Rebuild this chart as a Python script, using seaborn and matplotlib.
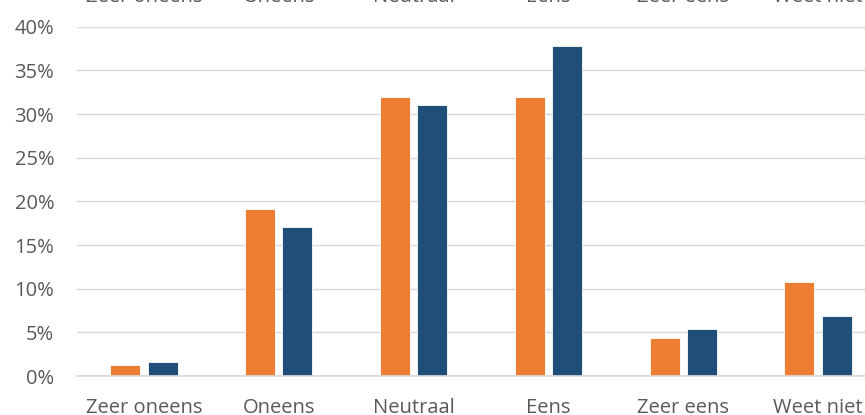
import pandas as pd
import seaborn as sb
import matplotlib.pyplot as plt
import matplotlib.transforms as mtransforms
from matplotlib.ticker import PercentFormatter

# antwoordcategorieen en aandelen per reeks
categorieen = ['Zeer oneens', 'Oneens', 'Neutraal', 'Eens', 'Zeer eens', 'Weet niet']
reeks_a = [0.013, 0.191, 0.320, 0.320, 0.044, 0.108]
reeks_b = [0.016, 0.171, 0.310, 0.378, 0.054, 0.069]
reeksen = ['A', 'B']
kleuren = ['#ED7D31', '#1F4E79']

dados = pd.DataFrame({
    'categorie': categorieen * 2,
    'aandeel': reeks_a + reeks_b,
    'reeks': [reeksen[0]] * len(categorieen) + [reeksen[1]] * len(categorieen),
})

sb.set_theme(style='white')
plt.rcParams['font.family'] = ['Open Sans', 'DejaVu Sans']

fig = plt.figure(figsize=(8.65, 4.15), dpi=100)
ax = fig.add_axes([76.5 / 865, 1 - 376 / 415, 809 / 865, (376 - 26.7) / 415])

sb.barplot(data=dados, x='categorie', y='aandeel', hue='reeks', order=categorieen,
           palette=kleuren, saturation=1, width=0.555, gap=0.2, legend=False, ax=ax,
           edgecolor='white', linewidth=0.6)

ax.set_ylim(0, 0.40)
ax.set_yticks([i * 0.05 for i in range(9)])
ax.yaxis.set_major_formatter(PercentFormatter(1.0, decimals=0))
ax.set_xlim(-0.5, len(categorieen) - 0.5)
ax.grid(axis='y', color='#d9d9d9', linewidth=1)
ax.set_axisbelow(True)
for s in ['top', 'right', 'left']:
    ax.spines[s].set_visible(False)
ax.spines['bottom'].set_color('#d9d9d9')
ax.tick_params(axis='y', length=0, pad=16, labelsize=14.5, labelcolor='#595959')
ax.tick_params(axis='x', length=0, pad=16, labelsize=14.5, labelcolor='#595959')
ax.set_xlabel('')
ax.set_ylabel('')

# afgesneden labels bovenaan
trans = mtransforms.blended_transform_factory(ax.transData, fig.transFigure)
for i, c in enumerate(categorieen):
    ax.text(i, 1 - 2 / 415, c, transform=trans, ha='center', va='baseline',
            fontsize=14.5, color='#595959', clip_on=False)

fig.savefig('out.png', dpi=100)
